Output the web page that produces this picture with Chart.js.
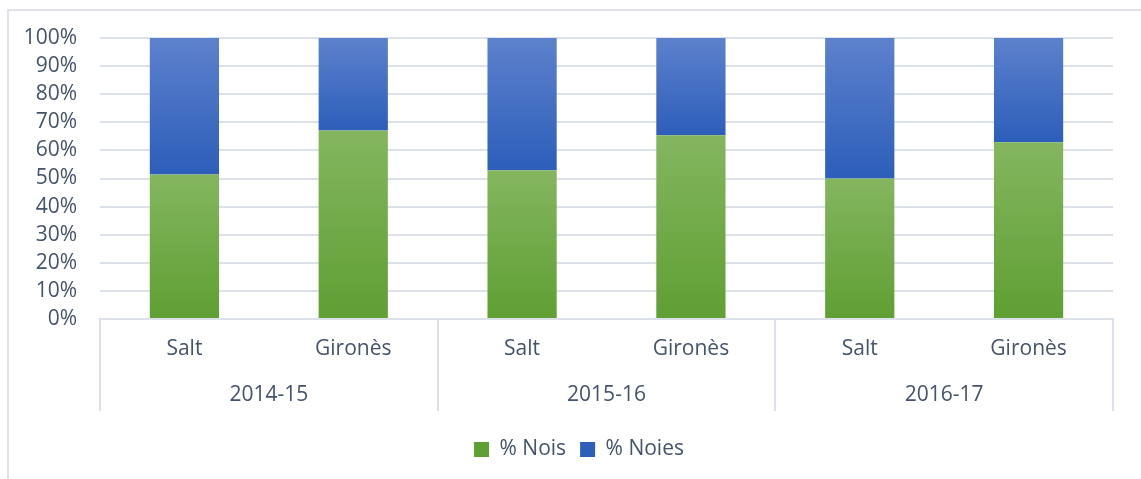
<!DOCTYPE html>
<html lang="ca">

<head>
    <meta charset="UTF-8">
    <title>% Nois / % Noies</title>
    <style>
        html, body {
            margin: 0;
            padding: 0;
            background: #ffffff;
            overflow: hidden;
        }
        #marc {
            position: absolute;
            left: 7px;
            top: 9px;
            width: 1200px;
            height: 600px;
            border-top: 2px solid #dfe3e9;
            border-left: 2px solid #dfe3e9;
        }
        #grafic-container {
            position: absolute;
            left: 0;
            top: 0;
            width: 1141px;
            height: 479px;
        }
    </style>
</head>

<body>
    <div id="marc"></div>
    <div id="grafic-container">
        <canvas id="grafic"></canvas>
    </div>

    <script src="https://cdn.jsdelivr.net/npm/chart.js@4"></script>
    <script>
        // dades
        var centres = ['Salt', 'Gironès', 'Salt', 'Gironès', 'Salt', 'Gironès'];
        var cursos = ['2014-15', '2015-16', '2016-17'];
        var nois = [51.4, 67.1, 52.9, 65.4, 50.0, 62.9];
        var noies = [48.6, 32.9, 47.1, 34.6, 50.0, 37.1];
        var ticksY = [0, 10, 20, 30, 40, 50, 60, 70, 80, 90, 100];

        var colorText = '#44546a';
        var colorLinia = '#dde2ea';
        var lletra = { family: "'Open Sans', 'Liberation Sans', sans-serif", size: 21 };

        // degradat per a cada segment de la barra
        function degradat(colorDalt, colorBaix, mig) {
            return function (context) {
                var chart = context.chart;
                if (!chart.chartArea || context.type !== 'data') return mig;
                var y = chart.scales.y;
                var i = context.dataIndex;
                var inici = context.datasetIndex === 0 ? 0 : nois[i];
                var fi = context.datasetIndex === 0 ? nois[i] : nois[i] + noies[i];
                var g = chart.ctx.createLinearGradient(0, y.getPixelForValue(fi), 0, y.getPixelForValue(inici));
                g.addColorStop(0, colorDalt);
                g.addColorStop(1, colorBaix);
                return g;
            };
        }

        // línies de separació entre cursos a l'eix X
        var separadors = {
            id: 'separadors',
            afterLayout: function (chart) {
                // la llegenda es centra sobre tot el marc, no només sobre l'àrea del gràfic
                chart.legend.left = 45;
            },
            afterDraw: function (chart) {
                var x = chart.scales.x;
                var c = chart.ctx;
                var punts = [x.left];
                for (var k = 2; k < centres.length; k += 2) {
                    punts.push((x.getPixelForTick(k - 1) + x.getPixelForTick(k)) / 2);
                }
                punts.push(x.right);
                c.save();
                c.strokeStyle = colorLinia;
                c.lineWidth = 2;
                punts.forEach(function (px) {
                    c.beginPath();
                    c.moveTo(Math.round(px), x.top);
                    c.lineTo(Math.round(px), x.bottom + 46);
                    c.stroke();
                });
                c.restore();
            }
        };

        var ctx = document.getElementById('grafic').getContext('2d');

        var grafic = new Chart(ctx, {
            type: 'bar',
            data: {
                labels: centres,
                datasets: [
                    {
                        label: '% Nois',
                        data: nois,
                        borderWidth: 0,
                        backgroundColor: degradat('#84b65f', '#5f9f33', '#6fa944')
                    },
                    {
                        label: '% Noies',
                        data: noies,
                        borderWidth: 0,
                        backgroundColor: degradat('#5d81cc', '#2c5eba', '#3f6dc4')
                    }
                ]
            },
            options: {
                responsive: true,
                maintainAspectRatio: false,
                animation: false,
                categoryPercentage: 1,
                barPercentage: 0.41,
                layout: {
                    padding: { top: 38, right: 28, bottom: 9, left: 0 }
                },
                plugins: {
                    legend: {
                        position: 'bottom',
                        labels: {
                            color: colorText,
                            font: lletra,
                            boxWidth: 15,
                            boxHeight: 15,
                            padding: 14
                        }
                    },
                    tooltip: { enabled: false }
                },
                scales: {
                    x: {
                        stacked: true,
                        grid: { display: false },
                        border: { display: true, color: colorLinia, width: 2 },
                        ticks: { color: colorText, font: lletra, padding: 9, maxRotation: 0 },
                        afterFit: function (s) { s.height = 46; }
                    },
                    x2: {
                        type: 'category',
                        labels: cursos,
                        position: 'bottom',
                        grid: { display: false },
                        border: { display: false },
                        ticks: { color: colorText, font: lletra, padding: 9, maxRotation: 0 },
                        afterFit: function (s) { s.height = 60; }
                    },
                    y: {
                        stacked: true,
                        min: 0,
                        max: 100,
                        afterBuildTicks: function (s) {
                            s.ticks = ticksY.map(function (v) { return { value: v }; });
                        },
                        ticks: {
                            color: colorText,
                            font: lletra,
                            padding: 23,
                            autoSkip: false,
                            callback: function (v) { return v + '%'; }
                        },
                        grid: { color: colorLinia, lineWidth: 2, drawTicks: false },
                        border: { display: false },
                        afterFit: function (s) { s.width = 100; }
                    }
                }
            },
            plugins: [separadors]
        });
    </script>
</body>

</html>
